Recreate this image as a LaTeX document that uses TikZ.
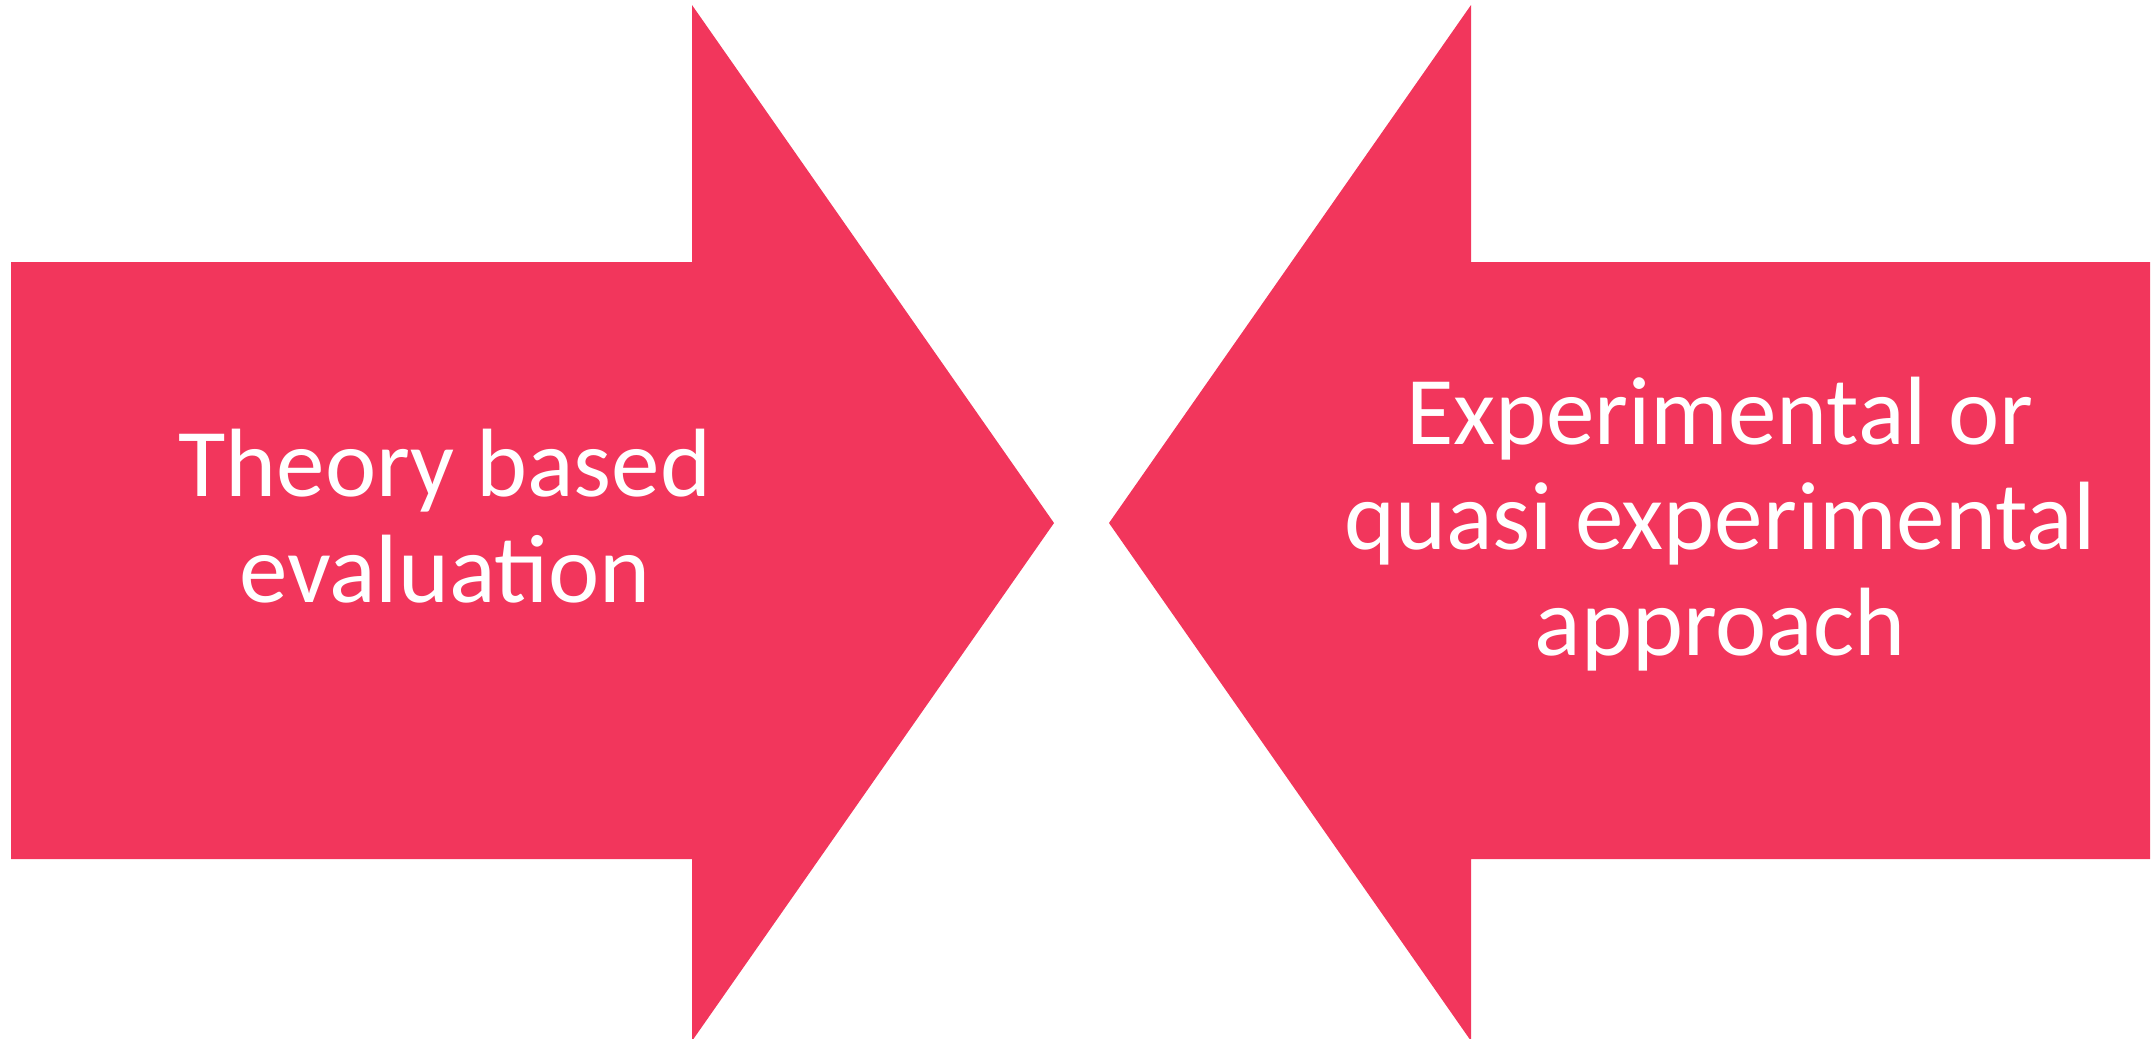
\documentclass[tikz,border=0pt]{standalone}
\usepackage{fontspec}
\usepackage{tikz}
\newfontfamily\slidefont{Carlito}
\definecolor{cpink}{HTML}{F2365C}

\begin{document}
\begin{tikzpicture}[x=0.01cm,y=-0.01cm,
  arrowshape/.style={fill=cpink,draw=none},
  arrowtext/.style={align=center,text=white,inner sep=0pt,anchor=base,
    font=\slidefont\fontsize{27.6pt}{30pt}\selectfont}]
  \useasboundingbox (0,0) rectangle (2151,1038);
  % left arrow, pointing right
  \fill[arrowshape] (11,262) -- (692,262) -- (692,5) -- (1054,523) -- (692,1041)
    -- (692,859) -- (11,859) -- cycle;
  % right arrow, pointing left
  \fill[arrowshape] (2150,262) -- (1471,262) -- (1471,5) -- (1109,523) -- (1471,1041)
    -- (1471,859) -- (2150,859) -- cycle;
  % base anchor sits on the last line
  \node[arrowtext] (theory) at (445,602) {Theory based\\evaluation};
  \node[arrowtext] (experimental) at (1720,655) {Experimental or\\quasi experimental\\approach};
\end{tikzpicture}
\end{document}
